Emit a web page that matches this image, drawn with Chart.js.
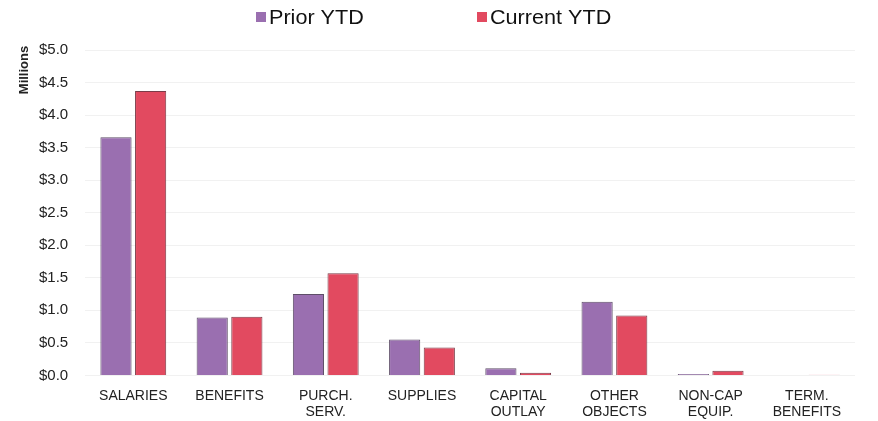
<!DOCTYPE html>
<html>
<head>
<meta charset="utf-8">
<script src="https://cdn.jsdelivr.net/npm/chart.js@4/dist/chart.umd.min.js"></script>
<style>
  html, body { margin: 0; padding: 0; background: #fff; }
  #wrap { width: 878px; height: 421px; position: relative; }
</style>
</head>
<body>
<div id="wrap"><canvas id="c"></canvas></div>
<script>
// Expense categories (multi-line labels)
const categories = [
  'SALARIES', 'BENEFITS', ['PURCH.', 'SERV.'], 'SUPPLIES',
  ['CAPITAL', 'OUTLAY'], ['OTHER', 'OBJECTS'], ['NON-CAP', 'EQUIP.'], ['TERM.', 'BENEFITS']
];
// Year-to-date spending, in millions of dollars
const priorYTD   = [3.66, 0.89, 1.25, 0.55, 0.11, 1.13, 0.02, 0.00];
const currentYTD = [4.37, 0.90, 1.57, 0.43, 0.04, 0.92, 0.07, 0.01];
const yTicks = [0, 0.5, 1, 1.5, 2, 2.5, 3, 3.5, 4, 4.5, 5];

const font = "'Liberation Sans', Arial, sans-serif";

// Rotated "Millions" caption and a wide-spaced legend across the top
const decorations = {
  id: 'decorations',
  afterDraw(chart) {
    const ctx = chart.ctx;
    ctx.save();
    ctx.translate(24, 70);
    ctx.rotate(-Math.PI / 2);
    ctx.font = 'bold 13px ' + font;
    ctx.fillStyle = '#222';
    ctx.textAlign = 'center';
    ctx.textBaseline = 'middle';
    ctx.fillText('Millions', 0, 0);
    ctx.restore();

    const starts = [256, 477];
    chart.data.datasets.forEach((ds, i) => {
      const x = starts[i];
      ctx.save();
      ctx.fillStyle = ds.backgroundColor;
      ctx.fillRect(x, 12, 10, 10);
      ctx.translate(x + 13, 17);
      ctx.scale(1.08, 1);
      ctx.font = '20px ' + font;
      ctx.fillStyle = '#111';
      ctx.textAlign = 'left';
      ctx.textBaseline = 'middle';
      ctx.fillText(ds.label, 0, 1);
      ctx.restore();
    });
  }
};

new Chart(document.getElementById('c'), {
  type: 'bar',
  data: {
    labels: categories,
    datasets: [
      { label: 'Prior YTD', data: priorYTD, backgroundColor: '#9a6fb0',
        borderColor: '#5e4e68', borderWidth: 1 },
      { label: 'Current YTD', data: currentYTD, backgroundColor: '#e24a60',
        borderColor: '#7a3c48', borderWidth: 1 }
    ]
  },
  options: {
    responsive: true,
    maintainAspectRatio: false,
    animation: false,
    layout: { padding: { left: 22, right: 23, top: 50, bottom: -4 } },
    plugins: {
      legend: { display: false },
      tooltip: { enabled: false }
    },
    datasets: { bar: { categoryPercentage: 0.72, barPercentage: 0.9 } },
    scales: {
      x: {
        grid: { display: false },
        border: { display: false },
        ticks: { font: { family: font, size: 14, lineHeight: 1.2 }, color: '#222', maxRotation: 0, padding: 4 }
      },
      y: {
        min: 0, max: 5,
        afterBuildTicks(axis) { axis.ticks = yTicks.map(v => ({ value: v })); },
        grid: { color: '#f1f1f1', drawTicks: false },
        border: { display: false },
        ticks: {
          font: { family: font, size: 15 }, color: '#222', padding: 17,
          callback: v => '$' + Number(v).toFixed(1)
        }
      }
    }
  },
  plugins: [decorations]
});
</script>
</body>
</html>
